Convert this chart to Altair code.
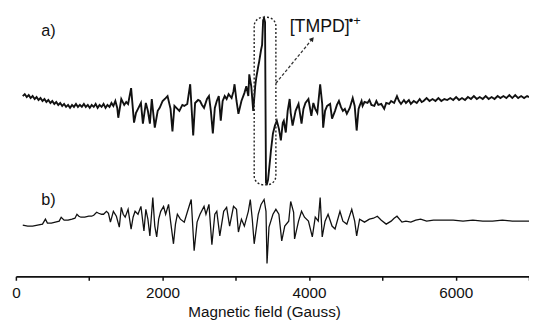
import altair as alt
import pandas as pd

# ---- trace a) : field (Gauss) and signal (arb. units, relative to baseline)
field_a = [94,121,148,175,201,228,256,282,309,336,363,390,416,443,471,497,524,551,578,605,
           632,658,685,712,739,766,792,820,847,873,900,928,954,981,1008,1034,1062,1088,1115,1142,
           1169,1196,1223,1249,1277,1304,1330,1357,1383,1397,1438,1478,1505,1531,1572,1612,1639,1666,1706,1733,
           1773,1801,1828,1854,1895,1935,1962,2002,2043,2069,2110,2136,2163,2203,2230,2271,2297,2338,2378,2419,
           2445,2486,2512,2539,2567,2607,2634,2660,2687,2714,2741,2768,2795,2821,2849,2875,2902,2943,2969,2983,
           3010,3036,3077,3117,3144,3171,3184,3211,3238,3265,3278,3306,3319,3345,3359,3373,3386,3399,3412,3426,
           3440,3467,3480,3507,3534,3560,3588,3615,3641,3655,3682,3708,3735,3749,3775,3816,3856,3897,3923,3950,
           3991,4031,4058,4084,4112,4151,4179,4192,4218,4246,4287,4313,4354,4380,4407,4434,4461,4488,4515,4555,
           4595,4622,4649,4675,4689,4716,4730,4756,4797,4823,4850,4890,4918,4945,4985,5025,5052,5092,5119,5160,
           5199,5227,5254,5294,5321,5361,5388,5428,5469,5509,5536,5562,5603,5643,5684,5724,5764,5804,5845,5885,
           5926,5966,6006,6046,6086,6127,6167,6208,6248,6288,6328,6369,6409,6450,6490,6530,6572,6610,6651,6691,
           6732,6772,6812,6852,6893,6933,6974,7000]
signal_a = [2,4,1,3,0,2,-1,1,-2,0,-3,-1,-4,-2,-5,-3,-6,-4,-7,-5,
            -8,-6,-9,-7,-10,-7,-9,-6,-9,-7,-9,-6,-9,-7,-10,-7,-9,-6,-10,-7,
            -9,-6,-10,-7,-9,-5,-8,-3,-10,-20,-1,-7,-4,-6,10,-25,-15,-11,-5,-26,
            -5,-13,-26,-1,-30,-13,-10,-3,0,2,-11,-34,-8,-11,-13,-7,-8,-6,14,-38,
            -5,-2,-3,-7,-10,-1,2,-13,-36,-10,-3,2,-23,-3,2,-1,4,0,7,14,
            -3,-16,-3,5,12,2,24,12,-13,12,20,32,37,49,54,79,81,77,-86,-87,
            -83,-63,-53,-36,-28,-23,-31,-43,-25,-23,-35,-13,-1,-15,-28,-13,-6,-26,-11,-5,
            -1,-18,-5,-11,-15,14,-6,-30,-13,-8,-6,-21,-13,-7,-3,-9,-13,-11,-16,-10,
            0,-8,-33,-11,-8,-3,-8,-4,-5,-2,-7,-8,-3,-7,-6,-11,-5,-6,-3,-5,
            2,-3,-6,-2,-5,-2,-6,-3,-5,-1,-4,-3,0,-3,-1,-3,0,-3,-1,-2,
            0,-2,1,-2,0,-2,1,-1,2,-1,1,-1,2,-1,1,-1,2,0,2,0,
            3,0,3,0,2,0,2,1]

# ---- trace b)
field_b = [94,161,228,296,363,403,430,484,538,591,618,658,712,766,806,833,859,887,940,995,
           1034,1062,1102,1129,1169,1196,1236,1263,1290,1330,1371,1411,1438,1464,1491,1531,1572,1599,1626,1666,
           1706,1747,1773,1801,1828,1868,1895,1921,1948,1976,2015,2043,2083,2110,2150,2177,2203,2244,2297,2338,
           2392,2432,2472,2512,2567,2593,2634,2674,2714,2741,2782,2835,2875,2916,2969,3010,3036,3077,3117,3171,
           3198,3225,3251,3306,3345,3386,3412,3426,3453,3507,3547,3588,3627,3668,3722,3749,3789,3802,3856,3897,
           3937,3991,4044,4084,4125,4151,4179,4218,4259,4313,4354,4421,4461,4515,4582,4622,4649,4689,4756,4823,
           4878,4931,4985,5052,5119,5160,5199,5267,5321,5388,5455,5522,5603,5697,5831,5966,6100,6234,6369,6503,
           6637,6772,6906,7000]
signal_b = [-1,-2,-2,-1,0,5,1,1,2,3,7,4,4,5,6,10,8,7,7,8,
            8,9,12,11,10,10,13,11,2,13,8,-3,17,10,7,15,-5,7,13,10,
            18,-7,15,5,-12,27,-2,-13,5,13,18,10,20,3,-20,0,10,5,2,12,
            25,-27,2,10,18,10,20,-21,10,13,-12,13,17,-2,18,15,-8,5,-2,13,
            25,5,-20,10,20,25,13,-40,-3,10,15,10,-17,-2,3,23,12,-15,3,13,
            7,3,-13,7,3,27,-13,3,10,-2,-5,13,3,0,15,3,-12,5,2,5,
            6,8,4,0,3,6,8,2,3,2,4,5,3,4,4,4,3,4,3,3,
            4,3,3,3]

offset_a = 181
offset_b = 53

# axis / annotation content
tick_values = [0, 1000, 2000, 3000, 4000, 5000, 6000, 7000]
x_title = "Magnetic field (Gauss)"
panel_labels = ["a)", "b)"]
panel_field = [443, 443]
panel_y = [249, 77]
box_field = [3251, 3547]
box_y = [93, 263]
arrow_field = [3547, 4044]
arrow_y = [196, 241]
radical_text = "[TMPD]"
radical_sup = "•+"

FONT = "Liberation Sans"

df_a = pd.DataFrame({"field": field_a, "y": [s + offset_a for s in signal_a]})
df_b = pd.DataFrame({"field": field_b, "y": [s + offset_b for s in signal_b]})

xscale = alt.Scale(domain=[0, 7000], nice=False, zero=False)
yscale = alt.Scale(domain=[0, 270], nice=False, zero=False)

xaxis = alt.Axis(values=tick_values,
                 labelExpr="datum.value % 2000 == 0 ? datum.label : ''",
                 format="d", grid=False, title=x_title,
                 domainColor="#111", domainWidth=1.8, tickColor="#111", tickWidth=1.5,
                 tickSize=4, labelPadding=6, labelFont=FONT, labelFontSize=15.5,
                 labelColor="#111", titleFont=FONT, titleFontSize=15.5,
                 titleFontWeight="normal", titleColor="#111",
                 titleX=252, titleY=41, titleBaseline="alphabetic", labelFlush=False)

line_a = alt.Chart(df_a).mark_line(color="#111", strokeWidth=1.9, clip=True).encode(
    x=alt.X("field:Q", scale=xscale, axis=xaxis),
    y=alt.Y("y:Q", scale=yscale, axis=None),
)
line_b = alt.Chart(df_b).mark_line(color="#111", strokeWidth=1.3, clip=True).encode(
    x=alt.X("field:Q", scale=xscale),
    y=alt.Y("y:Q", scale=yscale),
)

box_df = pd.DataFrame({"x": [box_field[0]], "x2": [box_field[1]], "y": [box_y[0]], "y2": [box_y[1]]})
box = alt.Chart(box_df).mark_rect(fillOpacity=0, stroke="#222", strokeWidth=1.4,
                                  strokeDash=[2, 2], cornerRadius=9).encode(
    x=alt.X("x:Q", scale=xscale), x2="x2:Q",
    y=alt.Y("y:Q", scale=yscale), y2="y2:Q",
)

arrow_df = pd.DataFrame({"x": arrow_field, "y": arrow_y})
arrow = alt.Chart(arrow_df).mark_line(color="#333", strokeWidth=1.3, strokeDash=[3, 2]).encode(
    x=alt.X("x:Q", scale=xscale), y=alt.Y("y:Q", scale=yscale),
)
head_df = pd.DataFrame({"x": [arrow_field[1]], "y": [arrow_y[1]]})
head = alt.Chart(head_df).mark_point(shape="triangle-up", filled=True, color="#222",
                                     size=28, angle=39, opacity=1).encode(
    x=alt.X("x:Q", scale=xscale), y=alt.Y("y:Q", scale=yscale),
)

lab_df = pd.DataFrame({"x": panel_field, "y": panel_y, "t": panel_labels})
labels = alt.Chart(lab_df).mark_text(font=FONT, fontSize=16.5, color="#111",
                                     align="center", baseline="middle").encode(
    x=alt.X("x:Q", scale=xscale), y=alt.Y("y:Q", scale=yscale), text="t:N",
)

rad_df = pd.DataFrame({"x": [3735], "y": [248], "t": [radical_text]})
rad = alt.Chart(rad_df).mark_text(font=FONT, fontSize=18, color="#111",
                                  align="left", baseline="alphabetic").encode(
    x=alt.X("x:Q", scale=xscale), y=alt.Y("y:Q", scale=yscale), text="t:N",
)
sup_df = pd.DataFrame({"x": [4540], "y": [255], "t": [radical_sup]})
sup = alt.Chart(sup_df).mark_text(font=FONT, fontSize=13, color="#111",
                                  align="left", baseline="alphabetic").encode(
    x=alt.X("x:Q", scale=xscale), y=alt.Y("y:Q", scale=yscale), text="t:N",
)

chart = alt.layer(line_a, line_b, box, arrow, head, labels, rad, sup).properties(
    width=521, height=270,
    autosize=alt.AutoSizeParams(type="none"),
    padding={"left": 8, "right": 0, "top": 0, "bottom": 46},
    background="white",
).configure_view(stroke=None)

chart.save("out.html", embed_options={"renderer": "svg", "actions": False})
